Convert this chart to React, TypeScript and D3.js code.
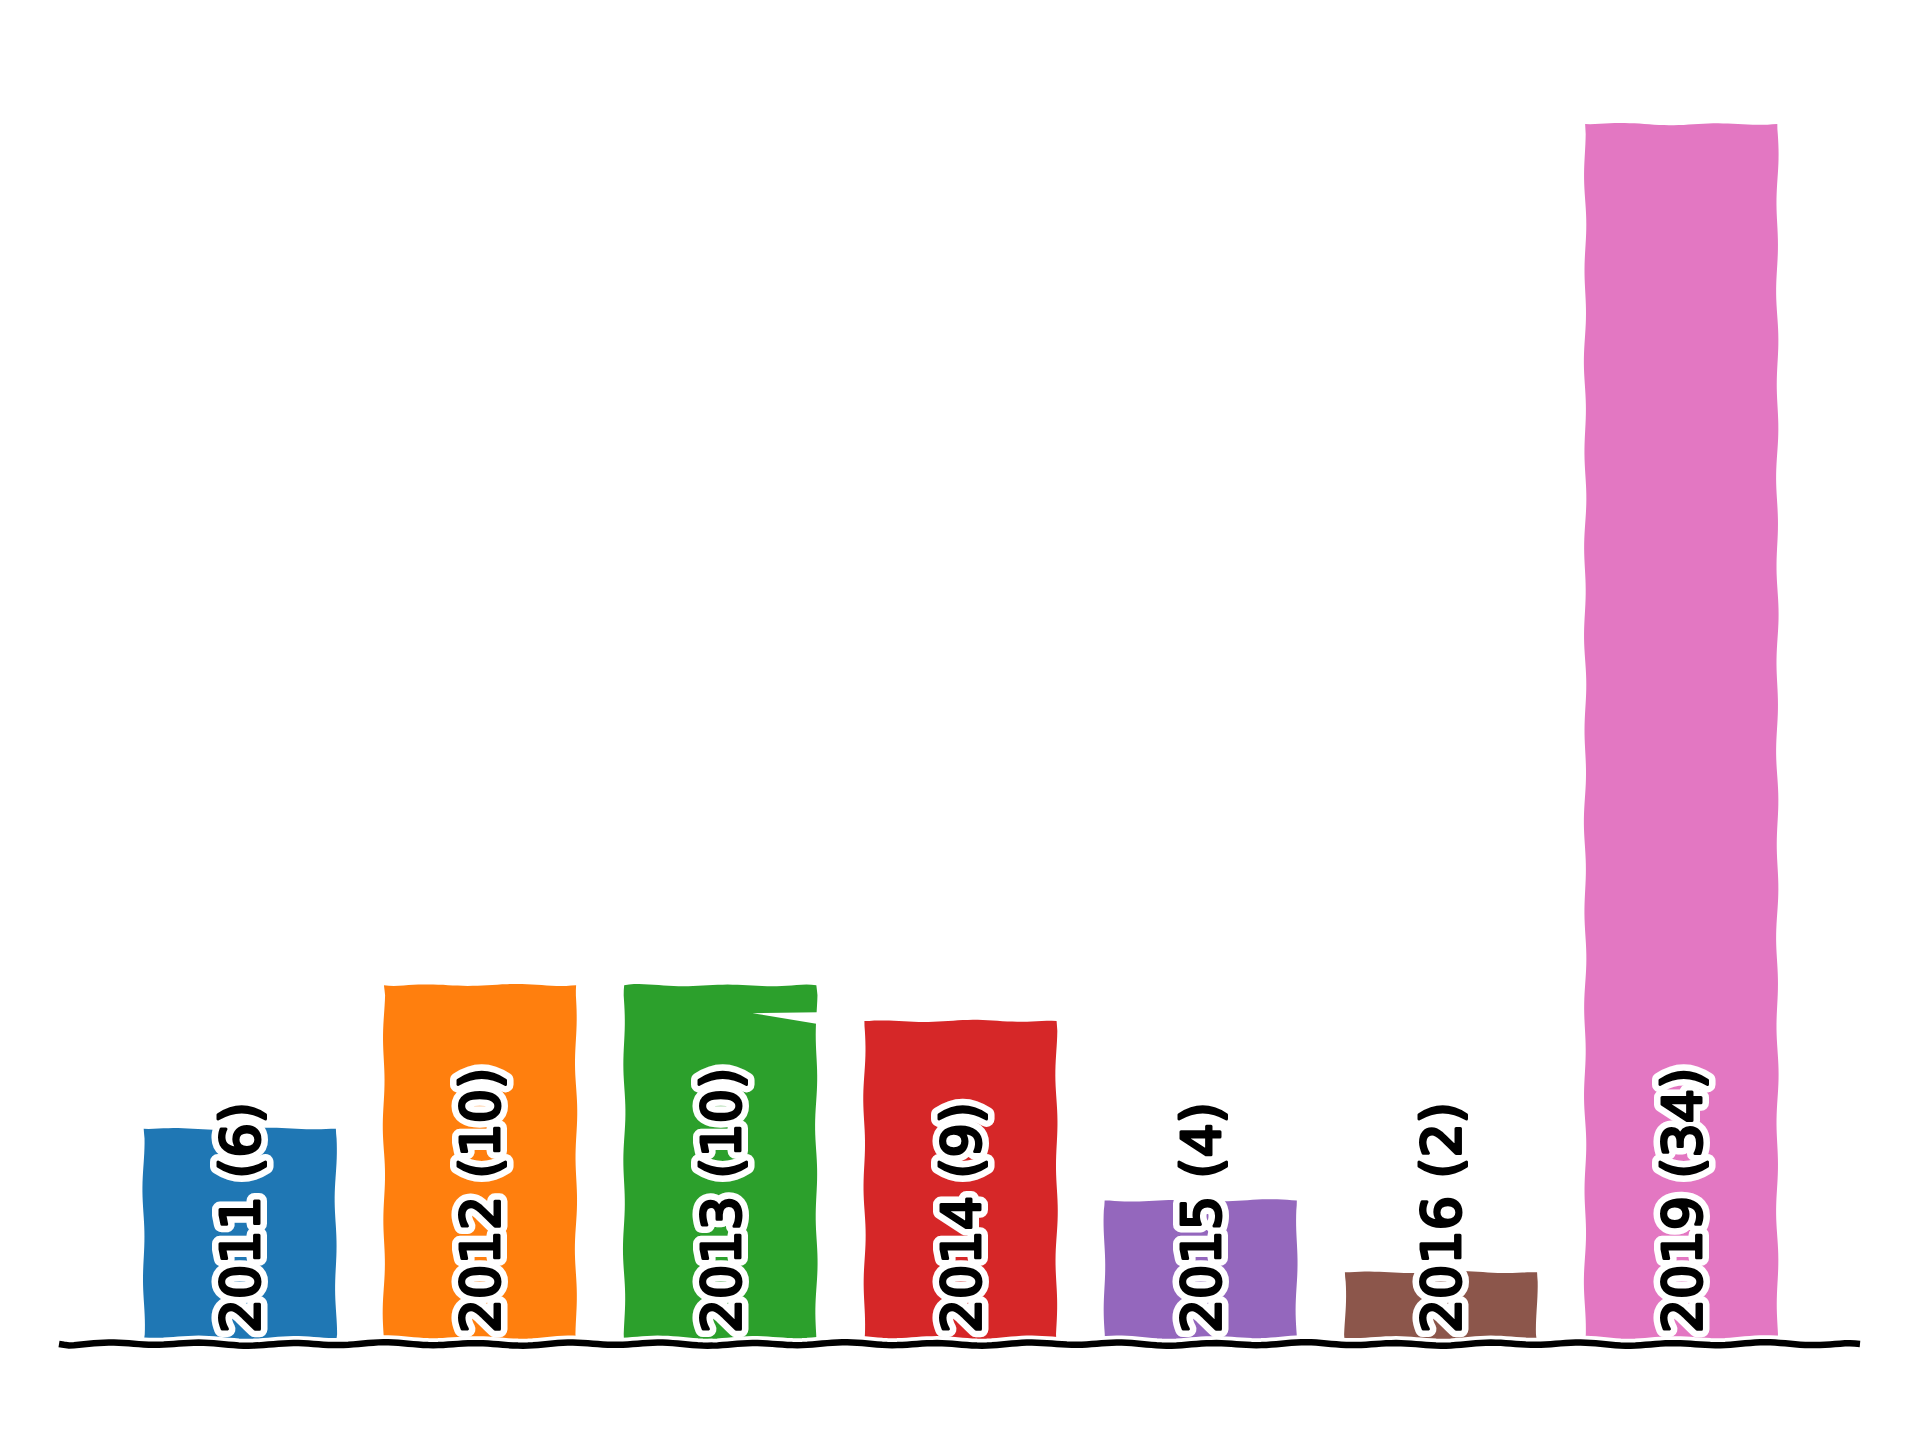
import { useRef, useEffect } from "react";
import * as d3 from "d3";

const years = ["2011", "2012", "2013", "2014", "2015", "2016", "2019"];
const counts = [6, 10, 10, 9, 4, 2, 34];
const barColors = ["#1f77b4", "#ff7f0e", "#2ca02c", "#d62728", "#9467bd", "#8c564b", "#e377c2"];

const WIDTH = 1920;
const HEIGHT = 1440;
const BAR_WIDTH = 0.8;
const FONT = "'DejaVu Sans', sans-serif";

type Pt = [number, number];

// hand-drawn look: push every point sideways by a smooth deterministic wobble
function wobble(points: Pt[], seed: number, amp = 1.5, closed = false): string {
  const pts = closed ? [...points, points[0]] : points;
  const out: Pt[] = [];
  let dist = 0;
  for (let i = 0; i < pts.length - 1; i++) {
    const [x0, y0] = pts[i];
    const [x1, y1] = pts[i + 1];
    const len = Math.hypot(x1 - x0, y1 - y0);
    const nx = -(y1 - y0) / (len || 1);
    const ny = (x1 - x0) / (len || 1);
    const steps = Math.max(1, Math.ceil(len / 5));
    for (let s = 0; s <= steps; s++) {
      if (s === 0 && i > 0) continue;
      const t = s / steps;
      const d = dist + t * len;
      const edge = Math.min(t * len, (1 - t) * len, 10) / 10;
      const off =
        edge *
        amp *
        (Math.sin((2 * Math.PI * d) / 92 + seed) * 0.8 +
          Math.sin((2 * Math.PI * d) / 231 + seed * 1.7) * 0.3);
      out.push([x0 + (x1 - x0) * t + nx * off, y0 + (y1 - y0) * t + ny * off]);
    }
    dist += len;
  }
  return (d3.line()(out) || "") + (closed ? "Z" : "");
}

export default function App() {
  const svgRef = useRef<SVGSVGElement>(null);

  useEffect(() => {
    if (!svgRef.current) return;
    const svg = d3.select(svgRef.current);
    svg.selectAll("*").remove();

    const x = d3.scaleLinear().domain([-0.74, 6.74]).range([62, 1859]);
    const y = d3.scaleLinear().domain([0, 35.7]).range([1344, 63]);
    const half = ((x(1) - x(0)) * BAR_WIDTH) / 2;

    svg.append("rect").attr("width", WIDTH).attr("height", HEIGHT).attr("fill", "#fff");

    // Bars
    const bars = svg.append("g");
    years.forEach((yr, i) => {
      const x0 = x(i) - half;
      const x1 = x(i) + half;
      const top = y(counts[i]);
      const base = y(0);
      const outline: Pt[] = [
        [x0, base],
        [x0, top],
        [x1, top],
        [x1, base],
      ];
      bars.append("path")
        .attr("d", wobble(outline, i * 2.1 + 0.4, 1.15, true))
        .attr("fill", barColors[i]);

      // small glitch in the 2013 outline, as in the original drawing
      if (yr === "2013") {
        bars.append("path")
          .attr("d", `M${x1 - 64},${top + 28}L${x1 + 3},${top + 27}L${x1 + 3},${top + 39}Z`)
          .attr("fill", "#fff");
      }
    });

    // Bottom spine
    const spineY = y(0);
    const spine = wobble([[x.range()[0] - 3, spineY], [x.range()[1] + 1, spineY]], 1.3, 1.6);
    svg.append("path").attr("d", spine).attr("fill", "none")
      .attr("stroke", "#fff").attr("stroke-width", 14).attr("stroke-linecap", "butt");
    svg.append("path").attr("d", spine).attr("fill", "none")
      .attr("stroke", "#000").attr("stroke-width", 6.5).attr("stroke-linecap", "butt");

    // Labels
    const labels = svg.append("g")
      .style("font-family", FONT)
      .style("font-size", "54px");
    years.forEach((yr, i) => {
      const txt = `${yr} (${counts[i]})`;
      const tr = `translate(${x(i)},${y(0.3)}) rotate(-90)`;
      labels.append("text")
        .attr("transform", tr)
        .attr("dy", "0.36em")
        .attr("fill", "#fff")
        .attr("stroke", "#fff")
        .attr("stroke-width", 16)
        .attr("stroke-linejoin", "round")
        .text(txt);
      labels.append("text")
        .attr("transform", tr)
        .attr("dy", "0.36em")
        .attr("fill", "#000")
        .attr("stroke", "#000")
        .attr("stroke-width", 3)
        .attr("stroke-linejoin", "round")
        .text(txt);
    });
  }, []);

  return (
    <svg
      ref={svgRef}
      width={WIDTH}
      height={HEIGHT}
      style={{ position: "absolute", left: 0, top: 0, display: "block" }}
    />
  );
}
